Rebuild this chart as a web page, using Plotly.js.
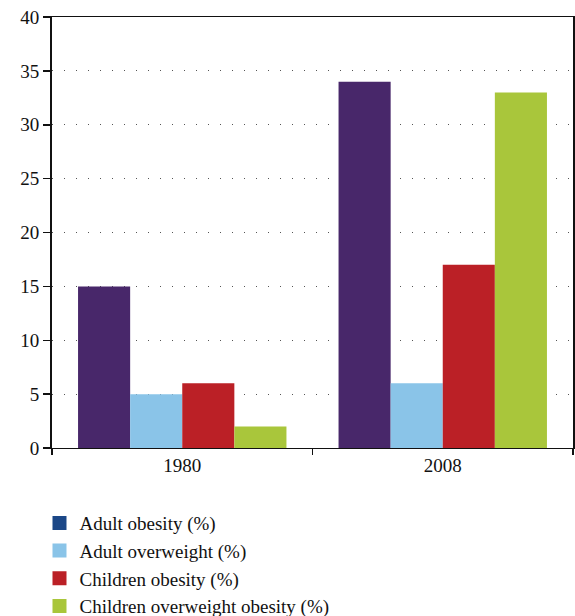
<!DOCTYPE html>
<html>
<head>
<meta charset="utf-8">
<script src="https://cdn.plot.ly/plotly-3.0.1.min.js"></script>
<style>html,body{margin:0;padding:0;background:#fff;}#chart{width:575px;height:616px;}</style>
</head>
<body>
<div id="chart"></div>
<script>
var years = ["1980", "2008"];
var seriesNames = ["Adult obesity (%)", "Adult overweight (%)", "Children obesity (%)", "Children overweight obesity (%)"];
var adultObesity = [15, 34];
var adultOverweight = [5, 6];
var childrenObesity = [6, 17];
var childrenOverweightObesity = [2, 33];
var yTicks = [0, 5, 10, 15, 20, 25, 30, 35, 40];

var barColors = ["#48276a", "#8ac4e8", "#bb2026", "#a9c63b"];
var legendColors = ["#1b4787", "#8ac4e8", "#bb2026", "#a9c63b"];
var values = [adultObesity, adultOverweight, childrenObesity, childrenOverweightObesity];

var traces = [];
values.forEach(function (v, i) {
  traces.push({
    type: "bar", x: years, y: v, name: seriesNames[i],
    marker: {color: barColors[i], line: {width: 0}},
    showlegend: false, hoverinfo: "y"
  });
});
seriesNames.forEach(function (n, i) {
  traces.push({
    type: "scatter", mode: "markers", x: [null], y: [null], name: n,
    marker: {symbol: "square", size: 14, color: legendColors[i]},
    showlegend: true
  });
});

var font = {family: "'Liberation Serif', serif", size: 19, color: "#111"};

var layout = {
  width: 575, height: 616,
  margin: {l: 52, r: 2, t: 17, b: 168, autoexpand: false},
  paper_bgcolor: "#fff", plot_bgcolor: "#fff",
  font: font,
  barmode: "group", bargap: 0.2, bargroupgap: 0,
  showlegend: true,
  legend: {
    x: -0.024, xanchor: "left", y: -0.13, yanchor: "top",
    orientation: "v", traceorder: "normal",
    font: {family: font.family, size: 19, color: "#111"},
    bgcolor: "rgba(0,0,0,0)", borderwidth: 0
  },
  xaxis: {
    type: "category",
    showline: true, linecolor: "#111", linewidth: 1, mirror: true,
    ticks: "outside", ticklen: 6, tickcolor: "#111", tickwidth: 1.5,
    tickson: "boundaries",
    showgrid: false, zeroline: false,
    tickfont: font
  },
  yaxis: {
    range: [0, 40], tickvals: yTicks, ticktext: yTicks.map(String),
    showline: true, linecolor: "#111", linewidth: 2, mirror: true,
    ticks: "outside", ticklen: 7, tickcolor: "#111", tickwidth: 1.5,
    showgrid: true, gridcolor: "#555", gridwidth: 1, griddash: "1px,11px",
    zeroline: false,
    tickfont: font
  }
};

Plotly.newPlot("chart", traces, layout, {displayModeBar: false, staticPlot: true});
</script>
</body>
</html>
